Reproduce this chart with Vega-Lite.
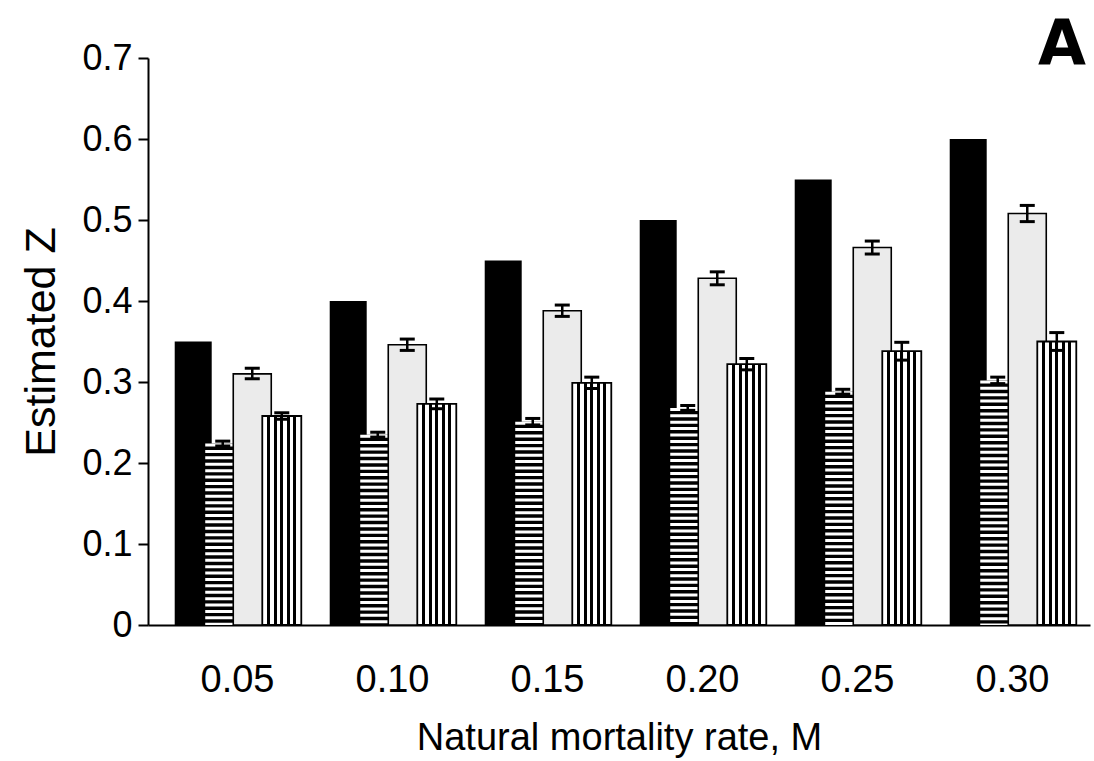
{
  "$schema": "https://vega.github.io/schema/vega-lite/v6.json",
  "width": 942,
  "height": 567,
  "autosize": "none",
  "padding": {"left": 148, "top": 58, "right": 4, "bottom": 136},
  "background": "white",
  "config": {
    "view": {"stroke": null},
    "font": "Liberation Sans",
    "axis": {"grid": false, "domainColor": "black", "tickColor": "black", "labelColor": "black", "titleColor": "black", "titleFontWeight": "normal"}
  },
  "title": {"text": "A", "anchor": "end", "fontSize": 62, "fontWeight": "bold", "font": "DejaVu Sans", "color": "black", "offset": -37, "dx": -4, "frame": "group"},
  "data": {
    "values": [
      {"M": "0.05", "s": "s1", "z": 0.35},
      {"M": "0.05", "s": "s2", "z": 0.224, "lo": 0.221, "hi": 0.227},
      {"M": "0.05", "s": "s3", "z": 0.310, "lo": 0.304, "hi": 0.317},
      {"M": "0.05", "s": "s4", "z": 0.258, "lo": 0.254, "hi": 0.262},
      {"M": "0.10", "s": "s1", "z": 0.40},
      {"M": "0.10", "s": "s2", "z": 0.235, "lo": 0.232, "hi": 0.238},
      {"M": "0.10", "s": "s3", "z": 0.346, "lo": 0.339, "hi": 0.353},
      {"M": "0.10", "s": "s4", "z": 0.273, "lo": 0.267, "hi": 0.279},
      {"M": "0.15", "s": "s1", "z": 0.45},
      {"M": "0.15", "s": "s2", "z": 0.251, "lo": 0.247, "hi": 0.255},
      {"M": "0.15", "s": "s3", "z": 0.388, "lo": 0.381, "hi": 0.395},
      {"M": "0.15", "s": "s4", "z": 0.299, "lo": 0.292, "hi": 0.306},
      {"M": "0.20", "s": "s1", "z": 0.50},
      {"M": "0.20", "s": "s2", "z": 0.268, "lo": 0.265, "hi": 0.271},
      {"M": "0.20", "s": "s3", "z": 0.428, "lo": 0.420, "hi": 0.436},
      {"M": "0.20", "s": "s4", "z": 0.322, "lo": 0.315, "hi": 0.329},
      {"M": "0.25", "s": "s1", "z": 0.55},
      {"M": "0.25", "s": "s2", "z": 0.288, "lo": 0.285, "hi": 0.291},
      {"M": "0.25", "s": "s3", "z": 0.466, "lo": 0.458, "hi": 0.474},
      {"M": "0.25", "s": "s4", "z": 0.338, "lo": 0.327, "hi": 0.349},
      {"M": "0.30", "s": "s1", "z": 0.60},
      {"M": "0.30", "s": "s2", "z": 0.302, "lo": 0.298, "hi": 0.306},
      {"M": "0.30", "s": "s3", "z": 0.508, "lo": 0.498, "hi": 0.518},
      {"M": "0.30", "s": "s4", "z": 0.350, "lo": 0.339, "hi": 0.361}
    ]
  },
  "encoding": {
    "x": {
      "field": "M", "type": "nominal", "sort": null,
      "scale": {"paddingInner": 0, "paddingOuter": 0.0387, "align": 1},
      "axis": {"title": "Natural mortality rate, M", "labelAngle": 0, "ticks": false, "labelFontSize": 38, "labelPadding": 36, "domainWidth": 2, "titleFontSize": 38, "titlePadding": 20}
    },
    "xOffset": {
      "field": "s", "type": "nominal",
      "scale": {"domain": ["s1", "s2", "s3", "s4"], "paddingInner": 0, "paddingOuter": 0.625}
    },
    "y": {
      "field": "z", "type": "quantitative",
      "scale": {"domain": [0, 0.7], "nice": false, "zero": true},
      "axis": {"title": "Estimated Z", "values": [0, 0.1, 0.2, 0.3, 0.4, 0.5, 0.6, 0.7], "labelExpr": "datum.value == 0 ? '0' : format(datum.value, '.1f')", "labelFontSize": 36, "tickSize": 10, "tickWidth": 2, "domainWidth": 2, "labelPadding": 6, "titleFontSize": 43, "titlePadding": 18}
    }
  },
  "layer": [
    {
      "transform": [{"filter": "datum.s == 's1'"}],
      "mark": {"type": "bar", "color": "black", "width": 37}
    },
    {
      "transform": [{"filter": "datum.s == 's2'"}],
      "mark": {"type": "bar", "color": "black", "width": 37}
    },
    {
      "transform": [{"filter": "datum.s == 's2'"}],
      "mark": {"type": "rule", "color": "white", "strokeWidth": 35, "strokeDash": [3, 3.4]},
      "encoding": {"y2": {"datum": 0}}
    },
    {
      "transform": [{"filter": "datum.s == 's3'"}],
      "mark": {"type": "bar", "fill": "#ebebeb", "stroke": "black", "strokeWidth": 1.6, "width": 38}
    },
    {
      "transform": [{"filter": "datum.s == 's4'"}],
      "mark": {
        "type": "bar", "stroke": "black", "strokeWidth": 1.8, "width": 39,
        "fill": {
          "gradient": "linear", "x1": 0, "y1": 0, "x2": 1, "y2": 0,
          "stops": [
            {"offset": 0, "color": "#ffffff"}, {"offset": 0.127, "color": "#ffffff"},
            {"offset": 0.127, "color": "#000000"}, {"offset": 0.207, "color": "#000000"},
            {"offset": 0.207, "color": "#ffffff"}, {"offset": 0.293, "color": "#ffffff"},
            {"offset": 0.293, "color": "#000000"}, {"offset": 0.373, "color": "#000000"},
            {"offset": 0.373, "color": "#ffffff"}, {"offset": 0.46, "color": "#ffffff"},
            {"offset": 0.46, "color": "#000000"}, {"offset": 0.54, "color": "#000000"},
            {"offset": 0.54, "color": "#ffffff"}, {"offset": 0.627, "color": "#ffffff"},
            {"offset": 0.627, "color": "#000000"}, {"offset": 0.707, "color": "#000000"},
            {"offset": 0.707, "color": "#ffffff"}, {"offset": 0.793, "color": "#ffffff"},
            {"offset": 0.793, "color": "#000000"}, {"offset": 0.873, "color": "#000000"},
            {"offset": 0.873, "color": "#ffffff"}, {"offset": 1, "color": "#ffffff"}
          ]
        }
      }
    },
    {
      "transform": [{"filter": "isValid(datum.lo)"}],
      "mark": {"type": "rule", "color": "black", "strokeWidth": 2.5},
      "encoding": {"y": {"field": "lo", "type": "quantitative"}, "y2": {"field": "hi"}}
    },
    {
      "transform": [{"filter": "isValid(datum.lo)"}],
      "mark": {"type": "tick", "color": "black", "opacity": 1, "thickness": 3, "size": 15, "orient": "horizontal"},
      "encoding": {"y": {"field": "hi", "type": "quantitative"}}
    },
    {
      "transform": [{"filter": "isValid(datum.lo)"}],
      "mark": {"type": "tick", "color": "black", "opacity": 1, "thickness": 3, "size": 15, "orient": "horizontal"},
      "encoding": {"y": {"field": "lo", "type": "quantitative"}}
    }
  ]
}
